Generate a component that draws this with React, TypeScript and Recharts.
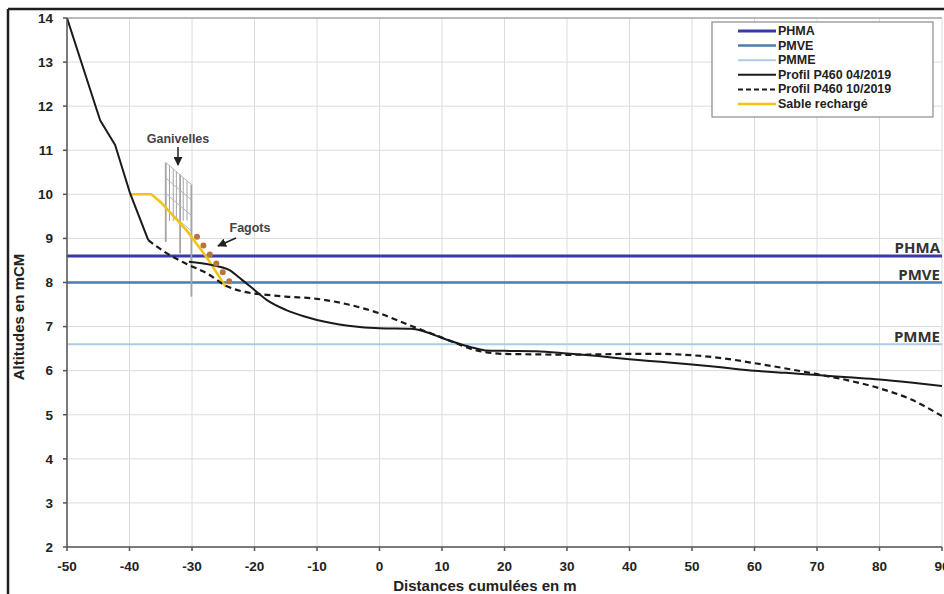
import React from 'react';
import { LineChart, Line, XAxis, YAxis, CartesianGrid, ReferenceLine } from 'recharts';

// ---- data ----
const xTicks = [-50, -40, -30, -20, -10, 0, 10, 20, 30, 40, 50, 60, 70, 80, 90];
const yTicks = [2, 3, 4, 5, 6, 7, 8, 9, 10, 11, 12, 13, 14];

const levelNames = ['PHMA', 'PMVE', 'PMME'];
const levelValues = [8.6, 8.0, 6.6];
const levelColors = ['#3a3aa6', '#4d7cad', '#abcbeb'];
const levelWidths = [3, 2.5, 2];

// Profil P460 04/2019 : dune face (straight segments) then beach (smooth)
const profilAvrHautX = [-50, -44.7, -42.3, -39.9, -37];
const profilAvrHautY = [14, 11.68, 11.12, 10.02, 8.96];
const profilAvrBasX = [-30.5, -27, -24, -22, -20, -18, -15, -12, -10, -5, 0, 5, 8, 10, 13, 15, 17, 20, 25, 30, 35, 40, 45, 50, 55, 60, 65, 70, 75, 80, 85, 90];
const profilAvrBasY = [8.47, 8.4, 8.28, 8.06, 7.83, 7.6, 7.38, 7.23, 7.15, 7.02, 6.96, 6.95, 6.85, 6.74, 6.6, 6.52, 6.46, 6.45, 6.44, 6.39, 6.33, 6.26, 6.2, 6.14, 6.07, 6.0, 5.95, 5.9, 5.85, 5.8, 5.73, 5.65];

// Profil P460 10/2019
const profilOctX = [-37, -34, -31, -27.5, -24.5, -22, -18, -15, -10, -5, 0, 5, 10, 13, 15, 18, 20, 25, 30, 35, 40, 45, 50, 55, 60, 65, 70, 75, 80, 85, 90];
const profilOctY = [8.96, 8.66, 8.43, 8.2, 7.92, 7.8, 7.72, 7.68, 7.63, 7.5, 7.3, 7.02, 6.75, 6.58, 6.48, 6.4, 6.38, 6.37, 6.36, 6.37, 6.38, 6.38, 6.35, 6.28, 6.17, 6.05, 5.92, 5.78, 5.6, 5.35, 4.97];

// Sable rechargé
const sableX = [-39.9, -36.5, -35, -30.8, -27.6, -24.6];
const sableY = [10.0, 10.0, 9.82, 9.17, 8.56, 7.9];

// Fagots (dotted)
const fagotsX = [-29.2, -23.9];
const fagotsY = [9.04, 8.0];

// Ganivelles (fence posts and wires)
const ganivelleX = [-34.2, -33.6, -33.0, -32.5, -31.9, -31.4, -30.8, -30.1];
const ganivelleTop = [10.72, 10.65, 10.58, 10.52, 10.45, 10.38, 10.3, 10.22];
const ganivelleBottom = [8.92, 9.4, 9.4, 9.4, 8.66, 9.4, 9.4, 7.68];
const ganivelleWireDrop = [0, 0.35, 0.7, 1.05];

const zip = (xs: number[], ys: number[]) => xs.map((x, i) => ({ x, y: ys[i] }));

const FONT = '"Liberation Sans", Arial, sans-serif';
const BLACK = '#1a1a1a';

const legendItems = [
  ...levelNames.map((n, i) => ({ name: n, color: levelColors[i], width: levelWidths[i], dash: undefined as string | undefined })),
  { name: 'Profil P460 04/2019', color: BLACK, width: 2, dash: undefined },
  { name: 'Profil P460 10/2019', color: BLACK, width: 2, dash: '5 3' },
  { name: 'Sable rechargé', color: '#f2c40f', width: 2.5, dash: undefined },
];

const levelLabelY = [247, 274, 336];

export default function App() {
  const tickStyle = { fill: '#222', fontSize: 13.5, fontWeight: 700, fontFamily: FONT };

  return (
    <div style={{ position: 'fixed', left: 0, top: 0, width: 944, height: 594, overflow: 'hidden', background: '#fff' }}>
      <div style={{ position: 'absolute', left: 0, top: 0 }}>
        <LineChart width={1000} height={594} margin={{ top: 18, right: 58, bottom: 7, left: 27 }}>
          <CartesianGrid stroke="#dcdcdc" strokeWidth={1} />
          <XAxis
            type="number"
            dataKey="x"
            domain={[-50, 90]}
            ticks={xTicks}
            allowDataOverflow
            height={40}
            tick={tickStyle}
            tickSize={4}
            tickMargin={10}
            stroke="#555"
            strokeWidth={1.5}
          />
          <YAxis
            type="number"
            domain={[2, 14]}
            ticks={yTicks}
            allowDataOverflow
            width={40}
            tick={tickStyle}
            tickSize={4}
            tickMargin={10}
            stroke="#555"
            strokeWidth={1.5}
          />
          <ReferenceLine y={14} stroke="#a8a8a8" strokeWidth={1.5} />

          {levelValues.map((v, i) => (
            <Line
              key={levelNames[i]}
              data={[{ x: -50, y: v }, { x: 90, y: v }]}
              dataKey="y"
              stroke={levelColors[i]}
              strokeWidth={levelWidths[i]}
              dot={false}
              isAnimationActive={false}
            />
          ))}

          {ganivelleX.map((x, i) => (
            <ReferenceLine
              key={'post' + i}
              segment={[{ x, y: ganivelleTop[i] }, { x, y: ganivelleBottom[i] }]}
              stroke="#a4a4a4"
              strokeWidth={i === 0 || i === 4 || i === 7 ? 1.8 : 1}
              ifOverflow="visible"
            />
          ))}
          {ganivelleWireDrop.map((d, i) => (
            <ReferenceLine
              key={'wire' + i}
              segment={[
                { x: ganivelleX[0], y: ganivelleTop[0] - d },
                { x: ganivelleX[ganivelleX.length - 1], y: ganivelleTop[ganivelleTop.length - 1] - d },
              ]}
              stroke="#b4b4b4"
              strokeWidth={1}
              ifOverflow="visible"
            />
          ))}

          <Line
            data={zip(sableX, sableY)}
            dataKey="y"
            type="linear"
            stroke="#f2c40f"
            strokeWidth={2.5}
            dot={false}
            isAnimationActive={false}
          />
          <Line
            data={zip(profilOctX, profilOctY)}
            dataKey="y"
            type="monotone"
            stroke={BLACK}
            strokeWidth={2.2}
            strokeDasharray="6 4"
            dot={false}
            isAnimationActive={false}
          />
          <Line
            data={zip(profilAvrHautX, profilAvrHautY)}
            dataKey="y"
            type="linear"
            stroke={BLACK}
            strokeWidth={2}
            strokeLinejoin="round"
            dot={false}
            isAnimationActive={false}
          />
          <Line
            data={zip(profilAvrBasX, profilAvrBasY)}
            dataKey="y"
            type="monotone"
            stroke={BLACK}
            strokeWidth={2}
            dot={false}
            isAnimationActive={false}
          />
          <Line
            data={zip(fagotsX, fagotsY)}
            dataKey="y"
            type="linear"
            stroke="#b9763c"
            strokeWidth={6}
            strokeLinecap="round"
            strokeDasharray="0 11"
            dot={false}
            isAnimationActive={false}
          />
        </LineChart>
      </div>

      {/* frame, titles, annotations, legend */}
      <svg width={944} height={594} style={{ position: 'absolute', left: 0, top: 0, pointerEvents: 'none' }}>
        <defs>
          <marker id="arrow" viewBox="0 0 10 10" refX="9" refY="5" markerWidth="6" markerHeight="6" orient="auto">
            <path d="M0,0 L10,5 L0,10 z" fill="#222" />
          </marker>
        </defs>
        <line x1={8} y1={9} x2={944} y2={9} stroke="#1e1e1e" strokeWidth={2.5} />
        <line x1={8} y1={9} x2={8} y2={594} stroke="#1e1e1e" strokeWidth={2.5} />

        <text
          x={18}
          y={317}
          transform="rotate(-90 18 317)"
          textAnchor="middle"
          dominantBaseline="central"
          fontFamily={FONT}
          fontWeight={700}
          fontSize={15}
          fill="#222"
        >
          Altitudes en mCM
        </text>
        <text x={485} y={585} textAnchor="middle" dominantBaseline="central" fontFamily={FONT} fontWeight={700} fontSize={15} fill="#222">
          Distances cumulées en m
        </text>

        {levelNames.map((n, i) => (
          <text
            key={n}
            x={940}
            y={levelLabelY[i]}
            textAnchor="end"
            dominantBaseline="central"
            fontFamily='"Open Sans", sans-serif'
            fontWeight={700}
            fontSize={15}
            fill="#333"
          >
            {n}
          </text>
        ))}

        <text x={178} y={139} textAnchor="middle" dominantBaseline="central" fontFamily={FONT} fontWeight={700} fontSize={12.5} fill="#444">
          Ganivelles
        </text>
        <line x1={178} y1={147} x2={178} y2={165} stroke="#222" strokeWidth={1.5} markerEnd="url(#arrow)" />
        <text x={250} y={228} textAnchor="middle" dominantBaseline="central" fontFamily={FONT} fontWeight={700} fontSize={12.5} fill="#444">
          Fagots
        </text>
        <line x1={236} y1={238} x2={218} y2={246} stroke="#222" strokeWidth={1.5} markerEnd="url(#arrow)" />

        <rect x={712} y={22} width={221} height={95} fill="#fff" stroke="#8a8a8a" strokeWidth={1.2} />
        {legendItems.map((it, i) => {
          const y = 31 + i * 14.6;
          return (
            <g key={it.name}>
              <line x1={738} y1={y} x2={776} y2={y} stroke={it.color} strokeWidth={it.width} strokeDasharray={it.dash} />
              <text x={778} y={y} dominantBaseline="central" fontFamily={FONT} fontWeight={700} fontSize={12.5} fill="#222">
                {it.name}
              </text>
            </g>
          );
        })}
      </svg>
    </div>
  );
}
